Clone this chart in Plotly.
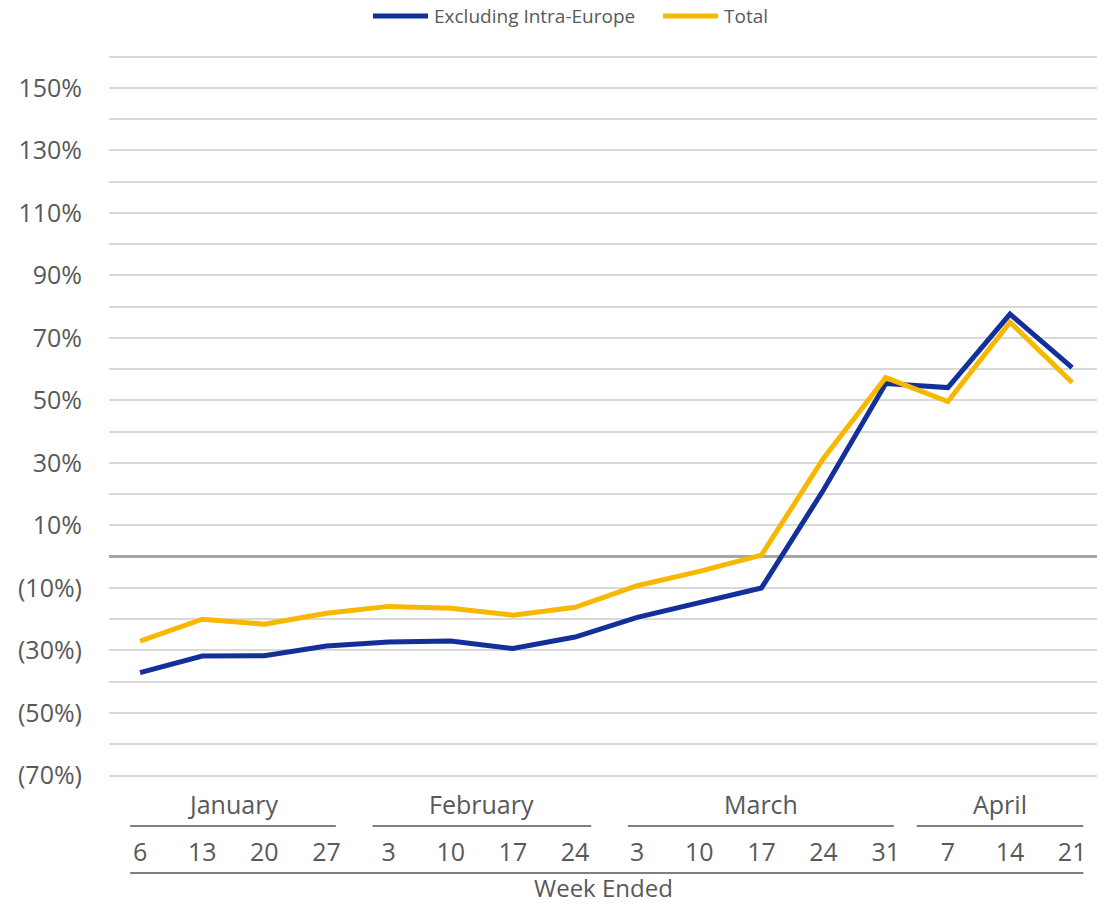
import plotly.graph_objects as go

# Weekly change versus prior year, by week ended
months = ["January", "February", "March", "April"]
days_per_month = [
    ["6", "13", "20", "27"],
    ["3", "10", "17", "24"],
    ["3", "10", "17", "24", "31"],
    ["7", "14", "21"],
]
excl_intra_europe = [-37.1, -31.8, -31.7, -28.6, -27.3, -27.0, -29.4, -25.7,
                     -19.4, -14.7, -10.0, 21.4, 55.4, 54.1, 77.6, 60.5]
total = [-27.0, -20.0, -21.6, -18.1, -15.9, -16.5, -18.7, -16.2,
         -9.3, -4.7, 0.5, 31.5, 57.3, 49.6, 75.0, 55.7]
y_label_vals = list(range(-70, 151, 20))
series_names = ["Excluding Intra-Europe", "Total"]

# flatten the two-level category axis
day_labels = [d for group in days_per_month for d in group]
x_idx = list(range(len(day_labels)))

def pct_label(v):
    return f"({abs(v)}%)" if v < 0 else f"{v}%"

FONT = "Open Sans, Noto Sans, sans-serif"
TEXT = "#595959"
RULE = "#7f7f7f"
BLUE = "#13309A"
GOLD = "#F8B700"
W, H = 1097, 904
L, T, B = 109, 54, 126
PLOT_H = H - T - B

def py(pixel_y):
    """Page pixel row -> paper y coordinate."""
    return (H - B - pixel_y) / PLOT_H

def px(pixel_x):
    """Page pixel column -> paper x coordinate."""
    return (pixel_x - L) / (W - L)

fig = go.Figure()
for name, vals, color in zip(series_names, [excl_intra_europe, total], [BLUE, GOLD]):
    fig.add_trace(go.Scatter(x=x_idx, y=vals, mode="lines", name=name,
                             line=dict(color=color, width=5)))

# month group labels with underline rules; padding per group in category units
pads = [(0.16, 0.15), (0.26, 0.26), (0.15, 0.13), (0.5, 0.18)]
annotations = []
shapes = []
start = 0
for name, group, (pl, pr) in zip(months, days_per_month, pads):
    end = start + len(group) - 1
    x0, x1 = start - pl, end + pr
    shapes.append(dict(type="line", xref="x", yref="paper", x0=x0, x1=x1,
                       y0=py(826), y1=py(826), line=dict(color=RULE, width=2)))
    annotations.append(dict(x=(x0 + x1) / 2, y=py(804), xref="x", yref="paper",
                            text=name, showarrow=False, yanchor="middle",
                            font=dict(family=FONT, size=25, color=TEXT)))
    start = end + 1

shapes.append(dict(type="line", xref="x", yref="paper", x0=-0.16, x1=15.18,
                   y0=py(873), y1=py(873), line=dict(color=RULE, width=2)))
annotations.append(dict(x=0.5, y=py(887), xref="paper", yref="paper",
                        text="Week Ended", showarrow=False, yanchor="middle",
                        font=dict(family=FONT, size=24, color=TEXT)))

# legend row across the top
legend_items = [(373, 428, 432), (663, 718, 722)]
for name, color, (sx0, sx1, tx) in zip(series_names, [BLUE, GOLD], legend_items):
    shapes.append(dict(type="line", xref="paper", yref="paper",
                       x0=px(sx0), x1=px(sx1), y0=py(16), y1=py(16),
                       line=dict(color=color, width=5)))
    annotations.append(dict(x=px(tx), y=py(16), xref="paper", yref="paper",
                            text=name, showarrow=False, xanchor="left",
                            yanchor="middle",
                            font=dict(family=FONT, size=19, color=TEXT)))

fig.update_layout(
    width=W, height=H,
    margin=dict(l=L, r=0, t=T, b=B),
    paper_bgcolor="white", plot_bgcolor="white",
    font=dict(family=FONT, color=TEXT),
    showlegend=False,
    annotations=annotations,
    shapes=shapes,
)
fig.update_xaxes(range=[-0.5, 15.4], tickvals=x_idx, ticktext=day_labels,
                 showgrid=False, zeroline=False, showline=False, ticks="",
                 ticklabelstandoff=57,
                 tickfont=dict(family=FONT, size=25, color=TEXT))
fig.update_yaxes(range=[-70.8, 160.8], tickvals=y_label_vals,
                 ticktext=[pct_label(v) for v in y_label_vals],
                 showgrid=True, gridcolor="#d9d9d9", gridwidth=2,
                 minor=dict(dtick=10, tick0=0, showgrid=True,
                            gridcolor="#d9d9d9", gridwidth=2),
                 zeroline=True, zerolinecolor="#a6a6a6", zerolinewidth=2.5,
                 showline=False, ticks="", ticklabelstandoff=26,
                 tickfont=dict(family=FONT, size=25, color=TEXT))

fig.write_html("out.html")
